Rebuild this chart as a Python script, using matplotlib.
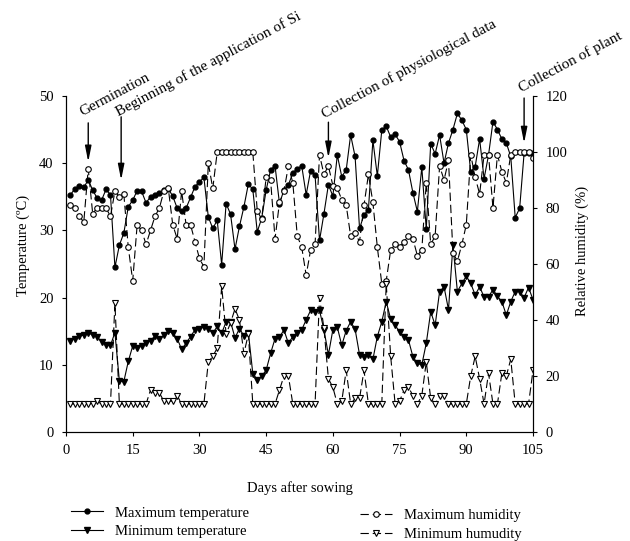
import numpy as np
import matplotlib
matplotlib.use("Agg")
import matplotlib.pyplot as plt
from matplotlib.lines import Line2D

plt.rcParams['font.family'] = ['Liberation Serif', 'DejaVu Serif']
plt.rcParams['font.size'] = 10.5

# daily records, day 1 .. 105 after sowing
days = np.arange(1, 106)

temp_max = [35.3, 36.2, 36.6, 36.4, 37.5, 36.0, 34.8, 34.5, 36.1, 35.3,
            24.5, 27.8, 29.6, 33.5, 34.5, 35.9, 35.8, 34.1, 35.0, 35.3,
            35.5, 36.0, 36.2, 35.1, 33.3, 32.9, 33.3, 34.9, 36.5, 37.2,
            37.9, 32.0, 30.3, 31.5, 24.9, 34.0, 32.4, 27.2, 30.6, 33.5,
            36.9, 36.1, 29.8, 31.8, 36.0, 39.0, 39.6, 34.0, 36.0, 36.8,
            38.5, 39.2, 39.6, 35.3, 38.9, 38.2, 28.5, 32.5, 36.8, 35.1,
            41.2, 38.0, 39.0, 44.2, 41.0, 30.3, 32.3, 33.1, 43.4, 38.1,
            44.9, 45.5, 43.9, 44.3, 43.2, 40.4, 39.0, 35.6, 32.8, 39.4,
            30.2, 42.9, 41.4, 44.2, 40.0, 43.0, 45.0, 47.4, 46.4, 45.0,
            38.7, 39.5, 43.6, 37.7, 41.2, 46.2, 45.0, 43.6, 43.0, 41.0,
            31.9, 33.3, 41.5, 41.5, 41.5]

temp_min = [13.6, 13.9, 14.3, 14.4, 14.8, 14.4, 14.2, 13.4, 12.9, 12.9,
            14.8, 7.6, 7.5, 10.5, 12.8, 12.5, 12.8, 13.2, 13.6, 14.3,
            13.8, 14.4, 15.0, 14.7, 13.9, 12.3, 13.2, 14.2, 15.2, 15.4,
            15.6, 15.4, 14.7, 15.7, 14.7, 16.4, 16.4, 14.0, 15.4, 14.3,
            14.8, 8.7, 7.8, 8.3, 9.2, 11.7, 13.9, 14.1, 15.2, 13.2,
            14.2, 14.8, 15.2, 16.7, 18.1, 17.8, 18.1, 15.2, 11.5, 15.2,
            15.6, 12.9, 15.1, 16.4, 15.3, 11.5, 11.1, 11.5, 10.8, 14.2,
            16.4, 19.4, 16.8, 15.9, 14.9, 14.2, 13.7, 11.2, 10.2, 10.0,
            13.2, 17.9, 15.9, 20.9, 21.6, 18.2, 27.8, 20.9, 22.1, 23.2,
            22.1, 20.4, 21.6, 20.1, 20.1, 21.2, 20.2, 19.4, 17.4, 19.4,
            20.9, 20.9, 20.0, 21.5, 19.7]

hum_max = [81, 80, 77, 75, 94, 78, 80, 80, 80, 77,
           86, 84, 85, 66, 54, 74, 72, 67, 72, 77,
           80, 86, 87, 74, 69, 86, 74, 74, 68, 62,
           59, 96, 87, 100, 100, 100, 100, 100, 100, 100,
           100, 100, 79, 76, 91, 90, 69, 82, 86, 95,
           89, 70, 66, 56, 65, 67, 99, 92, 95, 88,
           87, 83, 81, 70, 71, 68, 81, 92, 82, 66,
           53, 54, 65, 67, 66, 68, 70, 69, 63, 65,
           89, 67, 70, 95, 90, 97, 64, 61, 67, 74,
           99, 91, 85, 99, 99, 80, 99, 93, 89, 99,
           100, 100, 100, 100, 98]

hum_min = [10, 10, 10, 10, 10, 10, 11, 10, 10, 10,
           46, 10, 10, 10, 10, 10, 10, 10, 15, 14,
           14, 11, 11, 11, 13, 10, 10, 10, 10, 10,
           10, 25, 27, 30, 52, 35, 39, 44, 40, 28,
           35, 10, 10, 10, 10, 10, 10, 15, 20, 20,
           10, 10, 10, 10, 10, 10, 48, 37, 19, 16,
           10, 11, 22, 10, 12, 12, 22, 10, 10, 10,
           10, 53, 27, 10, 11, 15, 16, 13, 10, 13,
           25, 12, 10, 13, 13, 10, 10, 10, 10, 10,
           20, 27, 19, 10, 21, 10, 10, 21, 20, 26,
           10, 10, 10, 10, 22]

# events marked with arrows over the chart
event_days = [5, 12.4, 59, 103]
event_labels = ["Germination",
                "Beginning of the application of Si",
                "Collection of physiological data",
                "Collection of plant"]

# arrow ends and text anchors, in temperature units
arrow_top = [46.0, 46.9, 46.1, 49.7]
arrow_tip = [40.2, 37.5, 40.8, 43.0]
text_pos = [(3.9, 46.6), (12.2, 46.6), (58.4, 46.3), (102.7, 50.2)]

fig = plt.figure(figsize=(6.3, 5.41), dpi=100)
ax = fig.add_axes([66 / 630, 1 - 432 / 541, 467 / 630, 336 / 541])
ax2 = ax.twinx()

dash = (0, (7.5, 3.5))
lw = 0.8

ax.plot(days, temp_max, color='black', lw=lw, marker='o', ms=3.5, label='Maximum temperature')
ax.plot(days, temp_min, color='black', lw=lw, marker='v', ms=4.5, label='Minimum temperature')
ax2.plot(days, hum_max, color='black', lw=lw, ls=dash, marker='o', ms=4, mfc='white', mew=0.8,
         label='Maximum humidity')
ax2.plot(days, hum_min, color='black', lw=lw, ls=dash, marker='v', ms=4.5, mfc='white', mew=0.8,
         label='Minimum humudity')

ax.set_xlim(0, 105)
ax.set_ylim(0, 50)
ax2.set_ylim(0, 120)
ax.set_xticks(np.arange(0, 106, 15))
ax.set_yticks(np.arange(0, 51, 10))
ax2.set_yticks(np.arange(0, 121, 20))

for a in (ax, ax2):
    a.spines['top'].set_visible(False)
    a.tick_params(direction='out', length=3, width=0.8, pad=6, labelsize=10.5)
    for s in a.spines.values():
        s.set_linewidth(0.8)

ax.set_xlabel('Days after sowing')
ax.set_ylabel('Temperature (\u00baC)')
ax2.set_ylabel('Relative humidity (%)')
ax.xaxis.set_label_coords(0.501, -0.145)
ax.yaxis.set_label_coords(-0.077, 0.556)
ax2.yaxis.set_label_coords(1.090, 0.54)

# event arrows and rotated notes
for d, top, tip, (tx, ty), txt in zip(event_days, arrow_top, arrow_tip, text_pos, event_labels):
    ax.annotate('', xy=(d, tip), xytext=(d, top), annotation_clip=False,
                arrowprops=dict(arrowstyle='-|>,head_length=0.9,head_width=0.18',
                                color='black', lw=1.0, shrinkA=0, shrinkB=0))
    ax.text(tx, ty, txt, rotation=28, rotation_mode='anchor', ha='left', va='bottom',
            fontsize=11, clip_on=False)

# two legend blocks under the axis
h1 = [Line2D([], [], color='black', lw=lw, marker='o', ms=3.5),
      Line2D([], [], color='black', lw=lw, marker='v', ms=4.5)]
h2 = [Line2D([], [], color='black', lw=lw, ls=dash, marker='o', ms=4, mfc='white', mew=0.8),
      Line2D([], [], color='black', lw=lw, ls=dash, marker='v', ms=4.5, mfc='white', mew=0.8)]
fig.legend(h1, ['Maximum temperature', 'Minimum temperature'], loc='upper left',
           bbox_to_anchor=(64 / 630, 1 - 499 / 541), frameon=False, borderpad=0,
           handlelength=2.2, handletextpad=0.8, labelspacing=0.35)
fig.legend(h2, ['Maximum humidity', 'Minimum humudity'], loc='upper left',
           bbox_to_anchor=(353 / 630, 1 - 502 / 541), frameon=False, borderpad=0,
           handlelength=2.2, handletextpad=0.8, labelspacing=0.35)

fig.savefig('out.png', dpi=100)
